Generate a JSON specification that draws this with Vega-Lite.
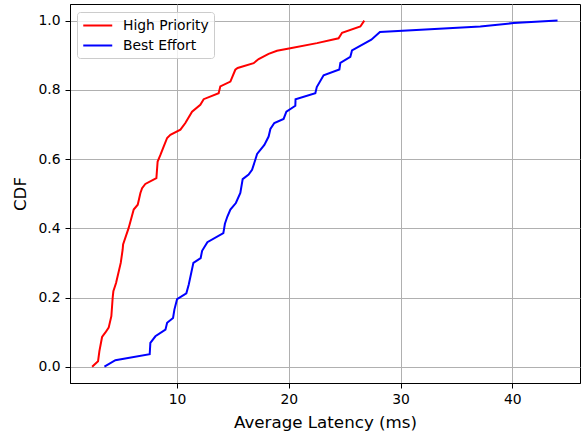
{
  "$schema": "https://vega.github.io/schema/vega-lite/v6.json",
  "width": 510,
  "height": 379,
  "autosize": {"type": "none"},
  "padding": {"left": 70, "top": 4, "right": 1, "bottom": 50},
  "background": "white",
  "config": {
    "font": "DejaVu Sans",
    "view": {"stroke": "#000000", "strokeWidth": 1},
    "axis": {
      "labelFont": "DejaVu Sans",
      "titleFont": "DejaVu Sans",
      "labelFontSize": 13.9,
      "titleFontSize": 16.7,
      "titleFontWeight": "normal",
      "labelColor": "#000000",
      "titleColor": "#000000",
      "tickColor": "#000000",
      "domainColor": "#000000",
      "tickSize": 5,
      "grid": true,
      "gridColor": "#b0b0b0",
      "gridWidth": 1
    },
    "legend": {
      "labelFont": "DejaVu Sans",
      "labelFontSize": 13.9,
      "labelColor": "#000000"
    }
  },
  "data": {
    "values": [
      {"s": "High Priority", "o": 1, "x": 2.40, "y": 0.0},
      {"s": "High Priority", "o": 2, "x": 2.93, "y": 0.016},
      {"s": "High Priority", "o": 3, "x": 3.05, "y": 0.045},
      {"s": "High Priority", "o": 4, "x": 3.29, "y": 0.086},
      {"s": "High Priority", "o": 5, "x": 3.59, "y": 0.099},
      {"s": "High Priority", "o": 6, "x": 3.88, "y": 0.113},
      {"s": "High Priority", "o": 7, "x": 4.12, "y": 0.146},
      {"s": "High Priority", "o": 8, "x": 4.24, "y": 0.200},
      {"s": "High Priority", "o": 9, "x": 4.30, "y": 0.218},
      {"s": "High Priority", "o": 10, "x": 4.54, "y": 0.242},
      {"s": "High Priority", "o": 11, "x": 4.96, "y": 0.300},
      {"s": "High Priority", "o": 12, "x": 5.13, "y": 0.338},
      {"s": "High Priority", "o": 13, "x": 5.17, "y": 0.353},
      {"s": "High Priority", "o": 14, "x": 5.67, "y": 0.401},
      {"s": "High Priority", "o": 15, "x": 6.12, "y": 0.454},
      {"s": "High Priority", "o": 16, "x": 6.48, "y": 0.468},
      {"s": "High Priority", "o": 17, "x": 6.72, "y": 0.502},
      {"s": "High Priority", "o": 18, "x": 6.87, "y": 0.516},
      {"s": "High Priority", "o": 19, "x": 7.16, "y": 0.528},
      {"s": "High Priority", "o": 20, "x": 8.15, "y": 0.545},
      {"s": "High Priority", "o": 21, "x": 8.26, "y": 0.593},
      {"s": "High Priority", "o": 22, "x": 8.51, "y": 0.612},
      {"s": "High Priority", "o": 23, "x": 8.80, "y": 0.636},
      {"s": "High Priority", "o": 24, "x": 9.11, "y": 0.661},
      {"s": "High Priority", "o": 25, "x": 9.40, "y": 0.670},
      {"s": "High Priority", "o": 26, "x": 10.30, "y": 0.685},
      {"s": "High Priority", "o": 27, "x": 10.74, "y": 0.704},
      {"s": "High Priority", "o": 28, "x": 11.34, "y": 0.737},
      {"s": "High Priority", "o": 29, "x": 12.08, "y": 0.757},
      {"s": "High Priority", "o": 30, "x": 12.38, "y": 0.773},
      {"s": "High Priority", "o": 31, "x": 13.72, "y": 0.790},
      {"s": "High Priority", "o": 32, "x": 13.87, "y": 0.810},
      {"s": "High Priority", "o": 33, "x": 14.77, "y": 0.824},
      {"s": "High Priority", "o": 34, "x": 15.21, "y": 0.858},
      {"s": "High Priority", "o": 35, "x": 15.42, "y": 0.863},
      {"s": "High Priority", "o": 36, "x": 16.85, "y": 0.877},
      {"s": "High Priority", "o": 37, "x": 17.30, "y": 0.889},
      {"s": "High Priority", "o": 38, "x": 18.19, "y": 0.904},
      {"s": "High Priority", "o": 39, "x": 18.94, "y": 0.913},
      {"s": "High Priority", "o": 40, "x": 20.13, "y": 0.920},
      {"s": "High Priority", "o": 41, "x": 22.52, "y": 0.935},
      {"s": "High Priority", "o": 42, "x": 24.45, "y": 0.949},
      {"s": "High Priority", "o": 43, "x": 24.76, "y": 0.965},
      {"s": "High Priority", "o": 44, "x": 26.40, "y": 0.983},
      {"s": "High Priority", "o": 45, "x": 26.75, "y": 1.0},
      {"s": "Best Effort", "o": 1, "x": 3.50, "y": 0.0},
      {"s": "Best Effort", "o": 2, "x": 4.48, "y": 0.019},
      {"s": "Best Effort", "o": 3, "x": 7.55, "y": 0.036},
      {"s": "Best Effort", "o": 4, "x": 7.61, "y": 0.069},
      {"s": "Best Effort", "o": 5, "x": 8.06, "y": 0.088},
      {"s": "Best Effort", "o": 6, "x": 8.96, "y": 0.107},
      {"s": "Best Effort", "o": 7, "x": 9.11, "y": 0.127},
      {"s": "Best Effort", "o": 8, "x": 9.64, "y": 0.141},
      {"s": "Best Effort", "o": 9, "x": 9.76, "y": 0.165},
      {"s": "Best Effort", "o": 10, "x": 10.00, "y": 0.195},
      {"s": "Best Effort", "o": 11, "x": 10.83, "y": 0.212},
      {"s": "Best Effort", "o": 12, "x": 11.04, "y": 0.237},
      {"s": "Best Effort", "o": 13, "x": 11.46, "y": 0.300},
      {"s": "Best Effort", "o": 14, "x": 12.11, "y": 0.314},
      {"s": "Best Effort", "o": 15, "x": 12.24, "y": 0.335},
      {"s": "Best Effort", "o": 16, "x": 12.71, "y": 0.360},
      {"s": "Best Effort", "o": 17, "x": 14.14, "y": 0.386},
      {"s": "Best Effort", "o": 18, "x": 14.28, "y": 0.413},
      {"s": "Best Effort", "o": 19, "x": 14.50, "y": 0.434},
      {"s": "Best Effort", "o": 20, "x": 14.77, "y": 0.454},
      {"s": "Best Effort", "o": 21, "x": 15.26, "y": 0.473},
      {"s": "Best Effort", "o": 22, "x": 15.66, "y": 0.502},
      {"s": "Best Effort", "o": 23, "x": 15.87, "y": 0.542},
      {"s": "Best Effort", "o": 24, "x": 16.40, "y": 0.555},
      {"s": "Best Effort", "o": 25, "x": 16.71, "y": 0.569},
      {"s": "Best Effort", "o": 26, "x": 17.00, "y": 0.598},
      {"s": "Best Effort", "o": 27, "x": 17.16, "y": 0.615},
      {"s": "Best Effort", "o": 28, "x": 17.81, "y": 0.641},
      {"s": "Best Effort", "o": 29, "x": 18.19, "y": 0.665},
      {"s": "Best Effort", "o": 30, "x": 18.35, "y": 0.687},
      {"s": "Best Effort", "o": 31, "x": 18.70, "y": 0.704},
      {"s": "Best Effort", "o": 32, "x": 19.53, "y": 0.716},
      {"s": "Best Effort", "o": 33, "x": 19.78, "y": 0.737},
      {"s": "Best Effort", "o": 34, "x": 20.58, "y": 0.754},
      {"s": "Best Effort", "o": 35, "x": 20.60, "y": 0.773},
      {"s": "Best Effort", "o": 36, "x": 22.37, "y": 0.790},
      {"s": "Best Effort", "o": 37, "x": 22.50, "y": 0.808},
      {"s": "Best Effort", "o": 38, "x": 23.11, "y": 0.842},
      {"s": "Best Effort", "o": 39, "x": 24.52, "y": 0.859},
      {"s": "Best Effort", "o": 40, "x": 24.61, "y": 0.878},
      {"s": "Best Effort", "o": 41, "x": 25.50, "y": 0.895},
      {"s": "Best Effort", "o": 42, "x": 25.65, "y": 0.914},
      {"s": "Best Effort", "o": 43, "x": 27.38, "y": 0.945},
      {"s": "Best Effort", "o": 44, "x": 28.15, "y": 0.967},
      {"s": "Best Effort", "o": 45, "x": 37.13, "y": 0.983},
      {"s": "Best Effort", "o": 46, "x": 40.11, "y": 0.993},
      {"s": "Best Effort", "o": 47, "x": 44.04, "y": 1.0}
    ]
  },
  "mark": {"type": "line", "strokeWidth": 2, "clip": true},
  "encoding": {
    "x": {
      "field": "x",
      "type": "quantitative",
      "scale": {"domain": [0.42, 46.05], "nice": false, "zero": false},
      "axis": {
        "title": "Average Latency (ms)",
        "values": [10, 20, 30, 40],
        "format": "d",
        "labelPadding": 4,
        "titlePadding": 9
      }
    },
    "y": {
      "field": "y",
      "type": "quantitative",
      "scale": {"domain": [-0.047, 1.048], "nice": false, "zero": false},
      "axis": {
        "title": "CDF",
        "values": [0, 0.2, 0.4, 0.6, 0.8, 1.0],
        "format": ".1f",
        "labelPadding": 5,
        "titlePadding": 8
      }
    },
    "order": {"field": "o", "type": "quantitative"},
    "color": {
      "field": "s",
      "type": "nominal",
      "scale": {"domain": ["High Priority", "Best Effort"], "range": ["#ff0000", "#0000ff"]},
      "legend": {
        "title": null,
        "orient": "none",
        "legendX": 7,
        "legendY": 8,
        "padding": 5,
        "fillColor": "rgba(255,255,255,0.8)",
        "strokeColor": "#cccccc",
        "cornerRadius": 3,
        "symbolType": "M-1,0L3,0",
        "symbolSize": 210,
        "symbolStrokeWidth": 2,
        "labelOffset": 24,
        "rowPadding": 4
      }
    }
  }
}
